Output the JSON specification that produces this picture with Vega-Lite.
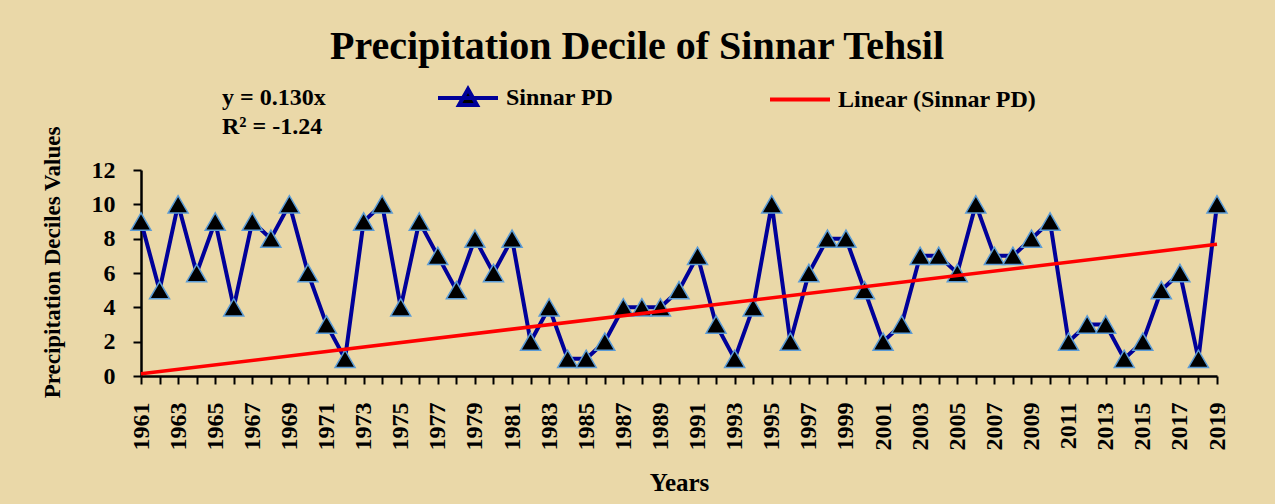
{
  "$schema": "https://vega.github.io/schema/vega-lite/v6.json",
  "width": 1076,
  "height": 206,
  "autosize": {"type": "none"},
  "padding": {"left": 141, "top": 170, "right": 58, "bottom": 128},
  "background": "#EAD8A8",
  "title": {
    "text": "Precipitation Decile of Sinnar Tehsil",
    "font": "Liberation Serif",
    "fontSize": 40,
    "fontWeight": "bold",
    "color": "black",
    "anchor": "middle",
    "frame": "group",
    "dx": -42,
    "dy": 33,
    "baseline": "alphabetic",
    "offset": 20
  },
  "datasets": {
    "pd": [
      {"year": 1961, "pd": 9}, {"year": 1962, "pd": 5}, {"year": 1963, "pd": 10}, {"year": 1964, "pd": 6},
      {"year": 1965, "pd": 9}, {"year": 1966, "pd": 4}, {"year": 1967, "pd": 9}, {"year": 1968, "pd": 8},
      {"year": 1969, "pd": 10}, {"year": 1970, "pd": 6}, {"year": 1971, "pd": 3}, {"year": 1972, "pd": 1},
      {"year": 1973, "pd": 9}, {"year": 1974, "pd": 10}, {"year": 1975, "pd": 4}, {"year": 1976, "pd": 9},
      {"year": 1977, "pd": 7}, {"year": 1978, "pd": 5}, {"year": 1979, "pd": 8}, {"year": 1980, "pd": 6},
      {"year": 1981, "pd": 8}, {"year": 1982, "pd": 2}, {"year": 1983, "pd": 4}, {"year": 1984, "pd": 1},
      {"year": 1985, "pd": 1}, {"year": 1986, "pd": 2}, {"year": 1987, "pd": 4}, {"year": 1988, "pd": 4},
      {"year": 1989, "pd": 4}, {"year": 1990, "pd": 5}, {"year": 1991, "pd": 7}, {"year": 1992, "pd": 3},
      {"year": 1993, "pd": 1}, {"year": 1994, "pd": 4}, {"year": 1995, "pd": 10}, {"year": 1996, "pd": 2},
      {"year": 1997, "pd": 6}, {"year": 1998, "pd": 8}, {"year": 1999, "pd": 8}, {"year": 2000, "pd": 5},
      {"year": 2001, "pd": 2}, {"year": 2002, "pd": 3}, {"year": 2003, "pd": 7}, {"year": 2004, "pd": 7},
      {"year": 2005, "pd": 6}, {"year": 2006, "pd": 10}, {"year": 2007, "pd": 7}, {"year": 2008, "pd": 7},
      {"year": 2009, "pd": 8}, {"year": 2010, "pd": 9}, {"year": 2011, "pd": 2}, {"year": 2012, "pd": 3},
      {"year": 2013, "pd": 3}, {"year": 2014, "pd": 1}, {"year": 2015, "pd": 2}, {"year": 2016, "pd": 5},
      {"year": 2017, "pd": 6}, {"year": 2018, "pd": 1}, {"year": 2019, "pd": 10}
    ],
    "trend": [
      {"year": 1961, "pd": 0.13},
      {"year": 2019, "pd": 7.67}
    ]
  },
  "encoding": {
    "x": {
      "field": "year",
      "type": "quantitative",
      "scale": {"domain": [1961, 2019], "nice": false, "zero": false},
      "axis": {
        "title": "Years",
        "values": [1961,1962,1963,1964,1965,1966,1967,1968,1969,1970,1971,1972,1973,1974,1975,1976,1977,1978,1979,1980,1981,1982,1983,1984,1985,1986,1987,1988,1989,1990,1991,1992,1993,1994,1995,1996,1997,1998,1999,2000,2001,2002,2003,2004,2005,2006,2007,2008,2009,2010,2011,2012,2013,2014,2015,2016,2017,2018,2019],
        "format": "d",
        "labelExpr": "datum.value % 2 == 1 ? datum.label : ''",
        "labelAngle": 270,
        "labelOverlap": false,
        "labelBound": false,
        "labelFlush": false,
        "labelPadding": 18,
        "grid": false,
        "tickSize": 8
      }
    },
    "y": {
      "field": "pd",
      "type": "quantitative",
      "scale": {"domain": [0, 12], "nice": false},
      "axis": {
        "title": "Precipitation Deciles Values",
        "values": [0, 2, 4, 6, 8, 10, 12],
        "grid": false,
        "tickSize": 8,
        "labelPadding": 18,
        "titlePadding": 27,
        "titleY": 92,
        "titleFontSize": 23
      }
    }
  },
  "layer": [
    {
      "data": {"name": "pd"},
      "mark": {"type": "line", "strokeWidth": 4},
      "encoding": {
        "color": {
          "datum": "Sinnar PD",
          "scale": {"domain": ["Sinnar PD", "Linear (Sinnar PD)"], "range": ["#000099", "#FF0000"]},
          "legend": {
            "orient": "none",
            "legendX": 81,
            "legendY": -84,
            "direction": "horizontal",
            "title": ["y = 0.130x", "R² = -1.24"],
            "titleOrient": "left",
            "titleAlign": "left",
            "titleAnchor": "start",
            "titleBaseline": "top",
            "titleLineHeight": 29,
            "titlePadding": 110,
            "titleFont": "Liberation Serif",
            "titleFontSize": 24,
            "titleFontWeight": "bold",
            "titleColor": "black",
            "titleLimit": 400,
            "labelFont": "Liberation Serif",
            "labelFontSize": 24,
            "labelFontWeight": "bold",
            "labelColor": "black",
            "labelLimit": 400,
            "labelOffset": 46,
            "symbolSize": 400,
            "symbolOpacity": 1,
            "columnPadding": 148,
            "encode": {
              "symbols": {
                "update": {
                  "shape": {"signal": "datum.value === 'Sinnar PD' ? 'M-1,0L5,0M1.1,0.7L2,-0.9L2.9,0.7Z' : 'M-1,0L5,0'"},
                  "fill": {"signal": "datum.value === 'Sinnar PD' ? 'black' : 'transparent'"},
                  "stroke": {"signal": "datum.value === 'Sinnar PD' ? '#000099' : '#FF0000'"},
                  "strokeWidth": {"value": 4}
                }
              }
            }
          }
        }
      }
    },
    {
      "data": {"name": "pd"},
      "mark": {"type": "point", "shape": "triangle-up", "filled": true, "fill": "black", "stroke": "#5B9BD5", "strokeWidth": 1.5, "size": 400, "opacity": 1}
    },
    {
      "data": {"name": "trend"},
      "mark": {"type": "line", "strokeWidth": 3.5},
      "encoding": {
        "color": {"datum": "Linear (Sinnar PD)"}
      }
    }
  ],
  "config": {
    "view": {"stroke": null},
    "axis": {
      "domainColor": "black",
      "domainWidth": 2.5,
      "tickColor": "black",
      "tickWidth": 2,
      "labelFont": "Liberation Serif",
      "labelFontSize": 24,
      "labelFontWeight": "bold",
      "labelColor": "black",
      "titleFont": "Liberation Serif",
      "titleFontSize": 25,
      "titleFontWeight": "bold",
      "titleColor": "black"
    },
    "axisX": {"titlePadding": 20}
  }
}
